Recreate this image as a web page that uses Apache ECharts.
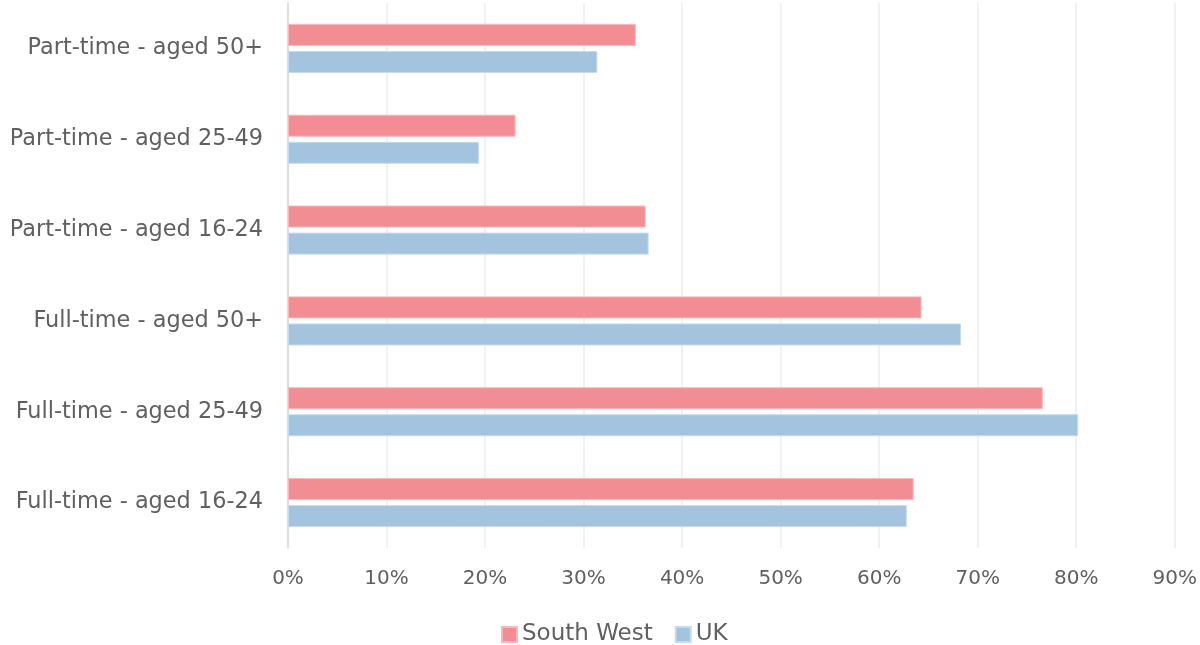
<!DOCTYPE html>
<html>
<head>
<meta charset="utf-8">
<script src="https://cdn.jsdelivr.net/npm/echarts@6/dist/echarts.min.js"></script>
<style>
  html, body { margin: 0; padding: 0; background: #ffffff; }
  #chart { width: 1200px; height: 645px; }
</style>
</head>
<body>
<div id="chart"></div>
<script>
// Employment categories, listed top to bottom
const categories = [
  'Part-time - aged 50+',
  'Part-time - aged 25-49',
  'Part-time - aged 16-24',
  'Full-time - aged 50+',
  'Full-time - aged 25-49',
  'Full-time - aged 16-24'
];
// Shares in percent
const southWest = [35.3, 23.1, 36.3, 64.3, 76.6, 63.5];
const uk = [31.4, 19.4, 36.6, 68.3, 80.2, 62.8];
const seriesNames = ['South West', 'UK'];
const xTicks = { min: 0, max: 90, interval: 10 };

const textColor = '#606060';
const fontFamily = '"DejaVu Sans", "Open Sans", sans-serif';

const chart = echarts.init(document.getElementById('chart'), null, { renderer: 'canvas' });
chart.setOption({
  animation: false,
  textStyle: { fontFamily: fontFamily },
  grid: { left: 288, right: 24, top: 3, bottom: 97, containLabel: false },
  legend: {
    left: 496,
    top: 618,
    icon: 'rect',
    itemWidth: 15,
    itemHeight: 15,
    itemGap: 22,
    itemTextGap: 6,
    textStyle: { color: textColor, fontSize: 23, fontFamily: fontFamily },
    data: seriesNames
  },
  xAxis: {
    type: 'value',
    min: xTicks.min,
    max: xTicks.max,
    interval: xTicks.interval,
    axisLine: { show: false },
    axisTick: { show: false },
    axisLabel: {
      color: textColor,
      fontSize: 20,
      margin: 21,
      formatter: v => v + '%'
    },
    splitLine: { show: true, lineStyle: { color: '#ececec', width: 1.5 } }
  },
  yAxis: {
    type: 'category',
    inverse: true,
    data: categories,
    axisLine: { show: true, lineStyle: { color: '#d9d9d9', width: 1.5 } },
    axisTick: { show: false },
    axisLabel: { color: textColor, fontSize: 22.4, margin: 25 }
  },
  series: [
    {
      name: seriesNames[0],
      type: 'bar',
      data: southWest,
      barWidth: 22,
      barGap: '23%',
      itemStyle: { color: '#f28e93', borderColor: '#f7b9bc', borderWidth: 1 }
    },
    {
      name: seriesNames[1],
      type: 'bar',
      data: uk,
      barWidth: 22,
      barGap: '23%',
      itemStyle: { color: '#a3c3de', borderColor: '#c6dbec', borderWidth: 1 }
    }
  ]
});
</script>
</body>
</html>
